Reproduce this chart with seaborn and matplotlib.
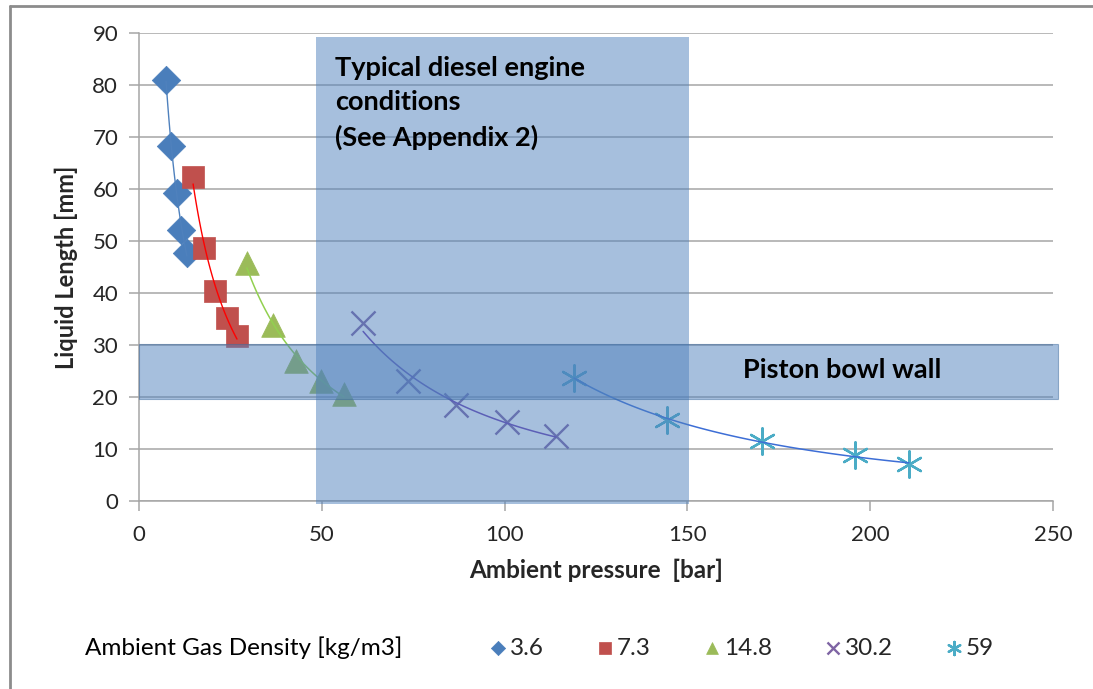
import numpy as np
import pandas as pd
import matplotlib
matplotlib.use("Agg")
import matplotlib.pyplot as plt
from matplotlib.patches import Rectangle
from matplotlib.lines import Line2D
import seaborn as sns

# Liquid length vs ambient pressure, one series per ambient gas density
densities = ["3.6", "7.3", "14.8", "30.2", "59"]
p_36 = [7.4, 8.8, 10.4, 11.5, 13.1]
l_36 = [81.0, 68.3, 59.2, 52.1, 47.7]
p_73 = [14.8, 17.8, 20.8, 24.1, 26.8]
l_73 = [62.3, 48.7, 40.4, 35.2, 31.7]
p_148 = [29.5, 36.7, 43.0, 49.8, 56.1]
l_148 = [45.8, 33.8, 27.0, 23.1, 20.6]
p_302 = [61.3, 73.6, 86.7, 100.7, 114.1]
l_302 = [34.2, 23.1, 18.5, 15.2, 12.5]
p_59 = [119.0, 144.4, 170.4, 195.8, 210.6]
l_59 = [23.7, 15.6, 11.5, 8.8, 7.1]

xticks = [0, 50, 100, 150, 200, 250]
yticks = [0, 10, 20, 30, 40, 50, 60, 70, 80, 90]

# Shaded regions
engine_range = (48.5, 150.5)   # bar
bowl_range = (19.7, 30.2)      # mm

sns.set_theme(style="white")
plt.rcParams["font.family"] = ["Lato", "DejaVu Sans"]

fig = plt.figure(figsize=(10.93, 6.89), dpi=100)
ax = fig.add_axes([139 / 1093, 1 - 501 / 689, (1053 - 139) / 1093, (501 - 33) / 689])

series = [
    (p_36, l_36, "D", "#4A7EBB", "#4F81BD", 1.0, 210),
    (p_73, l_73, "s", "#C0504D", "#FF0000", 1.0, 270),
    (p_148, l_148, "^", "#9BBB59", "#92D050", 1.1, 290),
    (p_302, l_302, "x", "#7E64A4", "#6A3DB0", 1.1, 300),
    (p_59, l_59, (6, 2, 0), "#4BACC6", "#3D6ED6", 1.1, 360),
]

for (px, py, mk, mc, lc, lw, sz), lab in zip(series, densities):
    df = pd.DataFrame({"p": px, "L": py})
    # power-law trendline through each density series
    b, a = np.polyfit(np.log(df["p"]), np.log(df["L"]), 1)
    xf = np.linspace(df["p"].min(), df["p"].max(), 100)
    fit = pd.DataFrame({"p": xf, "L": np.exp(a) * xf ** b})
    filled = mk in ("D", "s", "^")
    if filled:
        sns.scatterplot(data=df, x="p", y="L", marker=mk, s=sz, color=mc,
                        edgecolor=mc, linewidth=0.5, ax=ax, label=lab, zorder=3)
    else:
        sns.scatterplot(data=df, x="p", y="L", marker=mk, s=sz, color=mc,
                        linewidth=1.7, ax=ax, label=lab, zorder=3)
    sns.lineplot(data=fit, x="p", y="L", color=lc, linewidth=lw, ax=ax,
                 zorder=4, legend=False)

ax.set_xlim(0, 250)
ax.set_ylim(0, 90)
ax.set_xticks(xticks)
ax.set_yticks(yticks)
ax.grid(axis="y", color="#A6A6A6", linewidth=1.1)
ax.grid(axis="x", visible=False)
for s in ("top", "right"):
    ax.spines[s].set_visible(False)
for s in ("left", "bottom"):
    ax.spines[s].set_color("#A6A6A6")
    ax.spines[s].set_linewidth(1.1)
ax.tick_params(axis="both", direction="out", length=7, width=1.1, color="#A6A6A6",
               labelsize=16, labelcolor="#262626", pad=8)
ax.tick_params(axis="x", bottom=True, pad=10)
ax.tick_params(axis="y", left=True)

ax.set_xlabel("Ambient pressure  [bar]", fontsize=17.5, fontweight="bold", labelpad=10)
ax.set_ylabel("Liquid Length [mm]", fontsize=17, fontweight="bold", labelpad=10)

# Shaded regions drawn over the data
ax.add_patch(Rectangle((engine_range[0], -0.6), engine_range[1] - engine_range[0], 89.8,
                       facecolor="#4F81BD", alpha=0.5, edgecolor="none",
                       zorder=5, clip_on=False))
ax.add_patch(Rectangle((0, bowl_range[0]), 251.3, bowl_range[1] - bowl_range[0],
                       facecolor="#4F81BD", alpha=0.5, edgecolor="#3E6A9E",
                       linewidth=0.8, zorder=5, clip_on=False))

ax.text(53.6, 85.6, "Typical diesel engine\nconditions\n(See Appendix 2)",
        fontsize=19.5, fontweight="bold", color="black", va="top", ha="left",
        linespacing=1.5, zorder=6)
ax.text(165.2, 25.2, "Piston bowl wall", fontsize=19.5, fontweight="bold",
        color="black", va="center", ha="left", zorder=6)

# Legend below the plot
handles, labels = ax.get_legend_handles_labels()
if ax.legend_:
    ax.legend_.remove()
fig.text(85 / 1093, 1 - 648 / 689, "Ambient Gas Density [kg/m3]", fontsize=17.5,
         va="center", ha="left", color="black")
fig.legend(handles, labels, loc="center left",
           bbox_to_anchor=(469 / 1093, 1 - 648 / 689), ncol=5, frameon=False,
           fontsize=17.5, markerscale=0.5, handlelength=0.6, handletextpad=0.2,
           columnspacing=2.2)

# Outer chart frame
fig.add_artist(Line2D([10 / 1093, 10 / 1093], [0, 1 - 6 / 689], color="#8C8C8C",
                      linewidth=2, transform=fig.transFigure))
fig.add_artist(Line2D([10 / 1093, 1], [1 - 6 / 689, 1 - 6 / 689], color="#8C8C8C",
                      linewidth=2, transform=fig.transFigure))

fig.savefig("out.png", dpi=100, facecolor="white")
